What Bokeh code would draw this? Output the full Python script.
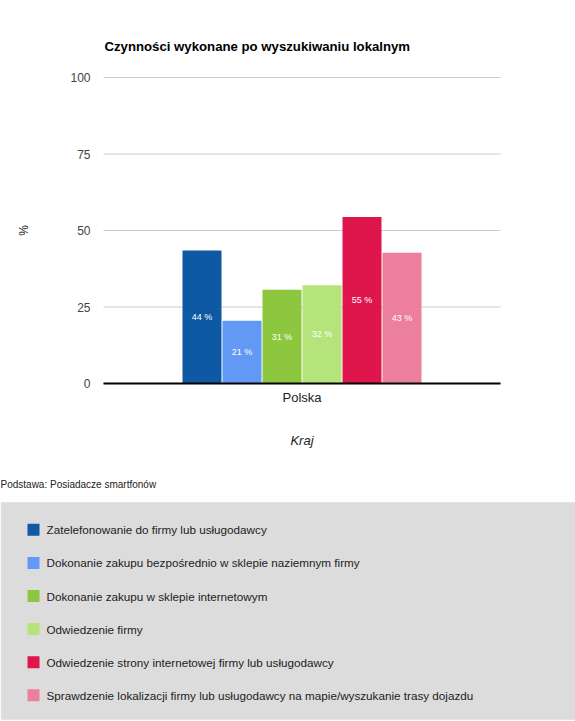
from bokeh.plotting import figure
from bokeh.models import Range1d, FixedTicker, ColumnDataSource, LinearAxis
from bokeh.core.properties import value
from bokeh.embed import file_html
from bokeh.resources import INLINE

# ---------------- data ----------------
title = "Czynności wykonane po wyszukiwaniu lokalnym"
country = ["Polska"]
series = [
    "Zatelefonowanie do firmy lub usługodawcy",
    "Dokonanie zakupu bezpośrednio w sklepie naziemnym firmy",
    "Dokonanie zakupu w sklepie internetowym",
    "Odwiedzenie firmy",
    "Odwiedzenie strony internetowej firmy lub usługodawcy",
    "Sprawdzenie lokalizacji firmy lub usługodawcy na mapie/wyszukanie trasy dojazdu",
]
values = [43.5, 20.5, 30.6, 32.1, 54.4, 42.7]
value_labels = ["44 %", "21 %", "31 %", "32 %", "55 %", "43 %"]
colors = ["#0f59a4", "#6199f5", "#8dc63f", "#b4e47a", "#df164c", "#ec7f9b"]
y_ticks = [0, 25, 50, 75, 100]
y_label = "%"
x_label = "Kraj"
note = "Podstawa: Posiadacze smartfonów"

FONT = "Liberation Sans"

# ---------------- layout constants (page pixels) ----------------
W, H = 575, 721
XL, XR = 103, 500          # chart area left / right
Y0, Y100 = 383, 77         # page y of value 0 and 100
ppu = (Y0 - Y100) / 100.0  # pixels per percent
cw = XR - XL               # pixels per category (one category spans 0..1)

p = figure(
    width=W, height=H, min_border=0,
    x_range=Range1d(-XL / cw, (W - XL) / cw),
    y_range=Range1d(-(H - Y0) / ppu, 100 + Y100 / ppu),
    x_axis_type=None, y_axis_type=None, title=None,
    output_backend="svg", toolbar_location=None,
)
p.extra_x_ranges = {"px": Range1d(0, W)}
p.extra_y_ranges = {"px": Range1d(H, 0)}
p.outline_line_color = None
p.background_fill_color = "white"
p.border_fill_color = "white"
p.xgrid.visible = False
p.ygrid.visible = False

# gridlines (from the tick list, through the chart's scales)
p.segment(x0=0, x1=1, y0=y_ticks, y1=y_ticks, line_color="#cccccc", line_width=1)

# bars
n = len(series)
step = 40.0 / cw
bw = 39.0 / cw
xs = [0.5 + (i - (n - 1) / 2) * step for i in range(n)]
src = ColumnDataSource(dict(x=xs, top=values, mid=[v / 2 for v in values],
                            lab=value_labels, c=colors))
p.vbar(x="x", top="top", bottom=0, width=bw, fill_color="c", line_color=None, source=src)
p.text(x="x", y="mid", text="lab", source=src, text_color="white",
       text_font=value(FONT), text_font_size="9px",
       text_align="center", text_baseline="middle")

# y axis
ya = LinearAxis(fixed_location=0, bounds=(0, 100), ticker=FixedTicker(ticks=y_ticks))
ya.axis_line_color = None
ya.major_tick_line_color = None
ya.minor_tick_line_color = None
ya.major_tick_out = 0
ya.major_tick_in = 0
ya.major_label_standoff = 13
ya.major_label_text_font = FONT
ya.major_label_text_font_size = "12px"
ya.major_label_text_color = "#444444"
ya.axis_label = y_label
ya.axis_label_text_font = FONT
ya.axis_label_text_font_size = "12px"
ya.axis_label_text_font_style = "normal"
ya.axis_label_text_color = "#222222"
ya.axis_label_standoff = 36
p.add_layout(ya, "left")

# x axis (one category, centred at 0.5)
xa = LinearAxis(fixed_location=0, bounds=(0, 1), ticker=FixedTicker(ticks=[0.5]),
                major_label_overrides={0.5: country[0]})
xa.axis_line_color = "#000000"
xa.axis_line_width = 2
xa.major_tick_line_color = None
xa.minor_tick_line_color = None
xa.major_tick_out = 0
xa.major_tick_in = 0
xa.major_label_standoff = 6
xa.major_label_text_font = FONT
xa.major_label_text_font_size = "13px"
xa.major_label_text_color = "#222222"
xa.axis_label = x_label
xa.axis_label_text_font = FONT
xa.axis_label_text_font_size = "13px"
xa.axis_label_text_font_style = "italic"
xa.axis_label_text_color = "#222222"
xa.axis_label_standoff = 25
p.add_layout(xa, "below")

# title
p.text(x=[104], y=[46], text=[title], x_range_name="px", y_range_name="px",
       text_font=value(FONT), text_font_size="13.2px", text_font_style="bold",
       text_color="#000000", text_align="left", text_baseline="middle")

# note
p.text(x=[0], y=[484], text=[note], x_range_name="px", y_range_name="px",
       text_font=value(FONT), text_font_size="10px", text_color="#222222",
       text_align="left", text_baseline="middle")

# legend panel
p.quad(left=[0.5], right=[W + 2], top=[502], bottom=[719],
       x_range_name="px", y_range_name="px",
       fill_color="#dcdcdc", line_color="#e3e3e3", line_width=1)
ly = [529.3 + 33.1 * i for i in range(n)]
lsrc = ColumnDataSource(dict(y=ly, c=colors, t=series))
p.rect(x=33, y="y", width=12, height=12, fill_color="c", line_color=None,
       source=lsrc, x_range_name="px", y_range_name="px")
p.text(x=46, y="y", text="t", source=lsrc, x_range_name="px", y_range_name="px",
       text_font=value(FONT), text_font_size="11.7px", text_color="#222222",
       text_align="left", text_baseline="middle")

open("out.html", "w").write(file_html(p, INLINE))
